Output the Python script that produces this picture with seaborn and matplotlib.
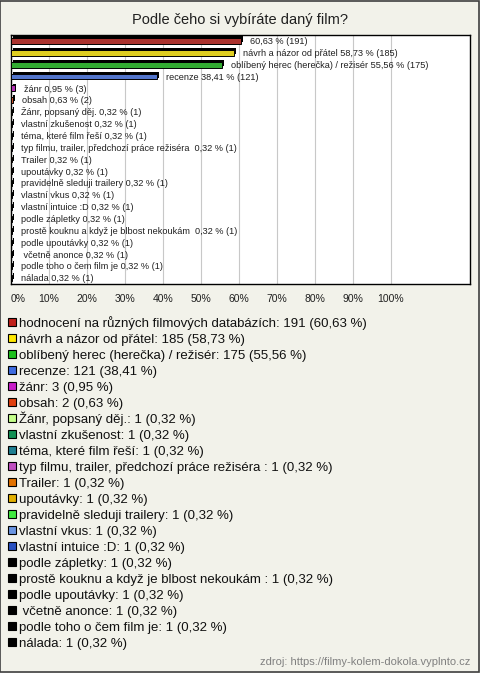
import matplotlib
matplotlib.use("Agg")
import matplotlib.pyplot as plt
import matplotlib.patheffects as pe
from matplotlib.patches import Rectangle
import seaborn as sns
import pandas as pd

# Odpovědi na otázku "Podle čeho si vybíráte daný film?"
odpovedi = [
    "hodnocení na různých filmových databázích",
    "návrh a názor od přátel",
    "oblíbený herec (herečka) / režisér",
    "recenze",
    "žánr",
    "obsah",
    "Žánr, popsaný děj.",
    "vlastní zkušenost",
    "téma, které film řeší",
    "typ filmu, trailer, předchozí práce režiséra ",
    "Trailer",
    "upoutávky",
    "pravidelně sleduji trailery",
    "vlastní vkus",
    "vlastní intuice :D",
    "podle zápletky",
    "prostě kouknu a když je blbost nekoukám ",
    "podle upoutávky",
    " včetně anonce",
    "podle toho o čem film je",
    "nálada",
]
pocty = [191, 185, 175, 121, 3, 2, 1, 1, 1, 1, 1, 1, 1, 1, 1, 1, 1, 1, 1, 1, 1]
procenta = [60.63, 58.73, 55.56, 38.41, 0.95, 0.63, 0.32, 0.32, 0.32, 0.32, 0.32,
            0.32, 0.32, 0.32, 0.32, 0.32, 0.32, 0.32, 0.32, 0.32, 0.32]
barvy = [
    "#c0201a", "#ffe800", "#1ec01e", "#3f6ce0", "#c81ec8", "#e0400f",
    "#c4ff8a", "#139055", "#1f7f92", "#c050c0", "#e27200", "#e2b000",
    "#40e840", "#6a95e2", "#2850c0", "#000000", "#000000", "#000000",
    "#000000", "#000000", "#000000",
]
osa_x = [0, 10, 20, 30, 40, 50, 60, 70, 80, 90, 100]

def fmt(v):
    return f"{v:.2f}".replace(".", ",")

# popisky u sloupců (u prvního je jen procento)
popisky = [f"{fmt(procenta[0])} % ({pocty[0]})"]
popisky += [f"{n} {fmt(p)} % ({c})" for n, p, c in zip(odpovedi[1:], procenta[1:], pocty[1:])]

df = pd.DataFrame({"odpoved": odpovedi, "procenta": procenta})

sns.set_theme(style="white")
plt.rcParams["font.family"] = ["Liberation Sans", "DejaVu Sans"]

W, H = 480, 673
BG = "#f2f2ea"
fig = plt.figure(figsize=(W / 100, H / 100), dpi=100)
fig.patch.set_facecolor(BG)
fig.patches.append(Rectangle((0.001, 0.001), 0.997, 0.997, transform=fig.transFigure,
                             fill=False, edgecolor="#404040", linewidth=1.2))

ax = fig.add_axes([11 / W, 1 - 284 / H, 459 / W, 249 / H])
ax.set_facecolor("white")

sns.barplot(data=df, x="procenta", y="odpoved", hue="odpoved", palette=barvy,
            orient="h", width=0.5, edgecolor="black", linewidth=0.7,
            legend=False, ax=ax, zorder=3)

# jednoduchý "3D" efekt
for bar in ax.patches:
    bar.set_path_effects([pe.SimplePatchShadow(offset=(1.3, 1.3), shadow_rgbFace="black", alpha=1),
                          pe.Normal()])

for i, (p, txt) in enumerate(zip(procenta, popisky)):
    ax.annotate(txt, (p, i), xytext=(6.5, -2.3), textcoords="offset points",
                va="baseline", ha="left", fontsize=6.6, color="#202020")

ax.set_xlim(0, 120.8)
ax.set_ylim(len(odpovedi) - 0.5, -0.5)
ax.set_xticks(osa_x)
ax.set_xticklabels([f"{t}%" for t in osa_x], fontsize=7.5, color="#202020")
ax.get_xticklabels()[0].set_ha("left")
ax.set_yticks([])
ax.set_xlabel("")
ax.set_ylabel("")
ax.tick_params(axis="x", length=0, pad=7)
ax.grid(axis="x", color="#c8c8c8", linewidth=0.8, zorder=0)
ax.set_axisbelow(True)
for s in ax.spines.values():
    s.set_color("black")
    s.set_linewidth(1)

fig.text(0.5, 1 - 20 / H, "Podle čeho si vybíráte daný film?", ha="center", va="center",
         fontsize=10.5, color="#202020")

# legenda pod grafem
for i, (n, c, p, col) in enumerate(zip(odpovedi, pocty, procenta, barvy)):
    y = 322 + 16 * i
    fig.patches.append(Rectangle((8 / W, 1 - (y + 4) / H), 8 / W, 8 / H,
                                 transform=fig.transFigure, facecolor=col,
                                 edgecolor="black", linewidth=0.8))
    fig.text(19 / W, 1 - (y + 4.6) / H, f"{n}: {c} ({fmt(p)} %)", ha="left", va="baseline",
             fontsize=9.5, color="#101010")

fig.text(470 / W, 1 - 662 / H, "zdroj: https://filmy-kolem-dokola.vyplnto.cz",
         ha="right", va="center", fontsize=8, color="#808080")

fig.savefig("out.png", dpi=100, facecolor=BG)
